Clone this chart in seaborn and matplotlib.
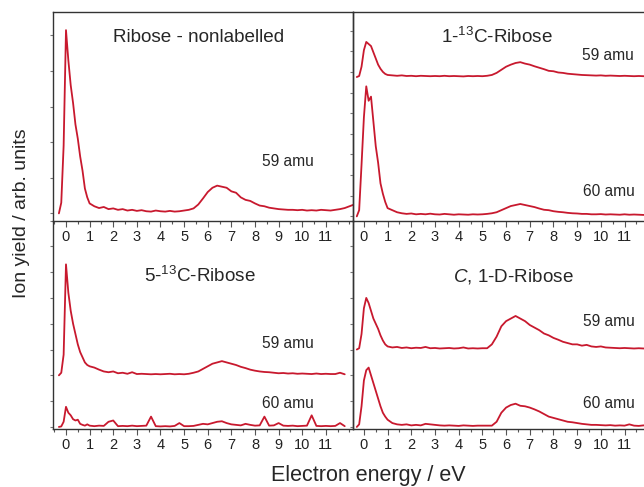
import numpy as np
import pandas as pd
import seaborn as sns
import matplotlib.pyplot as plt
from matplotlib.ticker import MultipleLocator

sns.set_style("ticks")
plt.rcParams['font.family'] = ['Liberation Sans', 'DejaVu Sans']
plt.rcParams['mathtext.fontset'] = 'custom'
plt.rcParams['mathtext.rm'] = 'Liberation Sans'
plt.rcParams['mathtext.it'] = 'Liberation Sans:italic'

nan = np.nan

##### data (arb. units, each panel in its own tick units) #####

energy = [-0.3, -0.2, -0.1, 0.0, 0.1, 0.2, 0.3, 0.4, 0.5, 0.6, 0.7, 0.8, 0.9, 1.0,
          1.2, 1.4, 1.6, 1.8, 2.0, 2.2, 2.4, 2.6, 2.8, 3.0, 3.2, 3.4, 3.6, 3.8, 4.0, 4.2, 4.4, 4.6, 4.8, 5.0,
          5.2, 5.4, 5.6, 5.8, 6.0, 6.2, 6.4, 6.6, 6.8, 7.0, 7.2, 7.4, 7.6, 7.8, 8.0, 8.2, 8.4, 8.6, 8.8, 9.0,
          9.2, 9.4, 9.6, 9.8, 10.0, 10.2, 10.4, 10.6, 10.8, 11.0, 11.2, 11.4, 11.6, 11.8, 12.0, 12.2]

# Ribose - nonlabelled, 59 amu
nonlab_59 = [0.0, 0.3, 1.9, 5.15, 4.3, 3.6, 3.1, 2.5, 2.1, 1.6, 1.2, 0.7, 0.45, 0.28,
             0.2, 0.15, 0.18, 0.12, 0.14, 0.1, 0.12, 0.08, 0.1, 0.07, 0.09, 0.06, 0.05, 0.08, 0.06, 0.05, 0.07, 0.05, 0.06, 0.08,
             0.1, 0.14, 0.25, 0.42, 0.6, 0.72, 0.78, 0.75, 0.72, 0.62, 0.58, 0.45, 0.38, 0.35, 0.28, 0.22, 0.2, 0.16, 0.14, 0.12,
             0.11, 0.1, 0.1, 0.09, 0.1, 0.08, 0.09, 0.08, 0.1, 0.09, 0.08, 0.1, 0.12, 0.15, 0.2, 0.25]

# 1-13C-Ribose
c1_59 = [0.0, 0.05, 0.5, 1.3, 1.7, 1.6, 1.5, 1.2, 0.9, 0.6, 0.4, 0.25, 0.15, 0.1,
         0.08, 0.06, 0.08, 0.05, 0.06, 0.04, 0.06, 0.05, 0.04, 0.05, 0.04, 0.06, 0.04, 0.05, 0.04, 0.03, 0.05, 0.04, 0.05, 0.04,
         0.06, 0.1, 0.2, 0.35, 0.5, 0.6, 0.68, 0.72, 0.65, 0.6, 0.52, 0.45, 0.38, 0.3, 0.28, 0.22, 0.2, 0.16, 0.14, 0.12,
         0.1, 0.09, 0.08, 0.07, 0.08, 0.06, 0.07, 0.06, 0.05, 0.06, 0.05, 0.04, 0.05, 0.04, 0.04, 0.04]
c1_60 = [0.0, 0.3, 2.5, 4.8, 6.3, 5.6, 5.8, 4.6, 3.4, 2.6, 1.6, 1.1, 0.7, 0.4,
         0.3, 0.2, 0.15, 0.12, 0.14, 0.1, 0.12, 0.1, 0.13, 0.1, 0.09, 0.12, 0.1, 0.08, 0.1, 0.09, 0.08, 0.1, 0.09, 0.1,
         0.12, 0.15, 0.2, 0.3, 0.4, 0.5, 0.55, 0.6, 0.55, 0.5, 0.45, 0.38, 0.32, 0.3, 0.25, 0.22, 0.2, 0.17, 0.15, 0.14,
         0.12, 0.12, 0.1, 0.1, 0.11, 0.09, 0.1, 0.09, 0.08, 0.1, 0.08, 0.09, 0.08, 0.07, 0.08, 0.08]

# 5-13C-Ribose
c5_59 = [0.0, 0.1, 0.8, 4.3, 3.2, 2.5, 2.0, 1.6, 1.2, 0.9, 0.7, 0.5, 0.4, 0.35,
         0.3, 0.22, 0.15, 0.12, 0.15, 0.08, 0.1, 0.06, 0.12, 0.05, 0.06, 0.05, 0.04, 0.05, 0.04, 0.05, 0.06, 0.04, 0.05, 0.04,
         0.06, 0.1, 0.15, 0.25, 0.35, 0.45, 0.5, 0.55, 0.5, 0.45, 0.4, 0.33, 0.28, 0.22, 0.18, 0.15, 0.13, 0.12, 0.1, 0.08,
         0.09, 0.07, 0.08, 0.06, 0.07, 0.06, 0.05, 0.07, 0.05, 0.06, 0.05, 0.05, 0.1, 0.04, nan, nan]
c5_60 = [0.0, 0.02, 0.2, 0.78, 0.55, 0.45, 0.3, 0.25, 0.28, 0.12, 0.08, 0.05, 0.1, 0.05,
         0.03, 0.05, 0.04, 0.2, 0.25, 0.03, 0.04, 0.03, 0.05, 0.03, 0.04, 0.05, 0.4, 0.03, 0.02, 0.03, 0.02, 0.04, 0.15, 0.03,
         0.03, 0.04, 0.08, 0.12, 0.1, 0.15, 0.2, 0.22, 0.15, 0.1, 0.08, 0.06, 0.12, 0.08, 0.05, 0.06, 0.4, 0.05, 0.06, 0.15,
         0.05, 0.04, 0.05, 0.03, 0.04, 0.05, 0.45, 0.04, 0.03, 0.04, 0.03, 0.04, 0.15, 0.03, nan, nan]

# C,1-D-Ribose
cd_59 = [0.0, 0.05, 0.6, 1.6, 2.0, 1.8, 1.5, 1.2, 1.0, 0.8, 0.55, 0.35, 0.2, 0.12,
         0.08, 0.1, 0.06, 0.08, 0.05, 0.07, 0.06, 0.1, 0.05, 0.06, 0.04, 0.05, 0.06, 0.04, 0.05, 0.08, 0.04, 0.05, 0.04, 0.05,
         0.05, 0.2, 0.5, 0.9, 1.1, 1.2, 1.3, 1.2, 1.1, 0.95, 0.85, 0.75, 0.62, 0.55, 0.45, 0.38, 0.3, 0.25, 0.2, 0.2,
         0.15, 0.18, 0.12, 0.1, 0.12, 0.08, 0.07, 0.06, 0.05, 0.06, 0.05, 0.04, 0.05, 0.04, 0.04, 0.04]
cd_60 = [0.0, 0.1, 0.8, 1.8, 2.2, 2.3, 2.0, 1.7, 1.4, 1.1, 0.8, 0.55, 0.4, 0.28,
         0.15, 0.1, 0.08, 0.1, 0.06, 0.08, 0.06, 0.12, 0.1, 0.08, 0.06, 0.05, 0.06, 0.05, 0.04, 0.06, 0.05, 0.04, 0.05, 0.05,
         0.05, 0.05, 0.2, 0.55, 0.75, 0.85, 0.9, 0.82, 0.8, 0.75, 0.68, 0.6, 0.5, 0.4, 0.35, 0.3, 0.25, 0.2, 0.18, 0.15,
         0.12, 0.1, 0.08, 0.08, 0.07, 0.06, 0.07, 0.05, 0.06, 0.05, 0.1, 0.05, 0.04, 0.06, 0.05, 0.05]

titles = ['Ribose - nonlabelled', '1-$^{13}$C-Ribose', '5-$^{13}$C-Ribose', r'$\it{C}$, 1-D-Ribose']
x_ticks = list(range(0, 12))

line_col = '#c8192e'
W, H = 644, 487

fig, axes = plt.subplots(2, 2, figsize=(W / 100, H / 100), dpi=100)
fig.subplots_adjust(left=53 / W, right=653 / W, top=1 - 12 / H, bottom=1 - 429 / H,
                    wspace=0, hspace=0)
(ax_tl, ax_tr), (ax_bl, ax_br) = axes

# (axis, series, vertical offset, mass label, label pixel pos)
traces = [
    (ax_tl, nonlab_59, 0.0, '59 amu', (288, 161)),
    (ax_tr, c1_59, 6.75, '59 amu', (608, 55)),
    (ax_tr, c1_60, 0.0, '60 amu', (609, 191)),
    (ax_bl, c5_59, 2.0, '59 amu', (288, 344)),
    (ax_bl, c5_60, 0.0, '60 amu', (288, 404)),
    (ax_br, cd_59, 3.0, '59 amu', (609, 322)),
    (ax_br, cd_60, 0.0, '60 amu', (609, 403)),
]

for ax, vals, off, lab, (px, py) in traces:
    df = pd.DataFrame({'energy': energy, 'yield': np.array(vals) + off})
    sns.lineplot(data=df, x='energy', y='yield', ax=ax, color=line_col, lw=1.3)
    fig.text(px / W, 1 - py / H, lab, ha='center', va='center', fontsize=11.2)

title_pos = [(199, 37), (497, 37), (200, 276), (513, 277)]
for t, (px, py) in zip(titles, title_pos):
    fig.text(px / W, 1 - py / H, t, ha='center', va='center', fontsize=13.6)

ax_tl.set_xlim(-0.55, 12.15)
ax_bl.set_xlim(-0.55, 12.15)
ax_tr.set_xlim(-0.46, 12.2)
ax_br.set_xlim(-0.46, 12.2)
ax_tl.set_ylim(-0.2, 5.66)
ax_tr.set_ylim(-0.2, 9.9)
ax_bl.set_ylim(-0.08, 8.0)
ax_br.set_ylim(-0.08, 8.0)

for ax in axes.flat:
    ax.set_xlabel('')
    ax.set_ylabel('')
    ax.patch.set_alpha(0)   # so the top row's tick labels are not hidden
    ax.set_xticks(x_ticks)
    ax.xaxis.set_minor_locator(MultipleLocator(0.5))
    ax.yaxis.set_major_locator(MultipleLocator(1))
    ax.set_yticklabels([])
    ax.tick_params(axis='x', which='major', direction='out', length=4, width=0.8,
                   color='#555555', labelsize=10.5, pad=2.5, labelcolor='#222222')
    ax.tick_params(axis='x', which='minor', direction='out', length=2.5, width=0.8, color='#555555')
    ax.tick_params(axis='y', which='major', direction='out', length=2.5, width=0.8, color='#777777')
    for s in ax.spines.values():
        s.set_color('#333333')
        s.set_linewidth(1.0)

for ax in (ax_bl, ax_br):
    ax.spines['top'].set_visible(False)
for ax in (ax_tr, ax_br):
    ax.spines['right'].set_visible(False)
for ax in (ax_tl, ax_tr):
    ax.set_zorder(2)

fig.text(22 / W, 1 - 213 / H, 'Ion yield / arb. units', rotation=90,
         ha='center', va='center', fontsize=14)
fig.text(368 / W, 1 - 476 / H, 'Electron energy / eV', ha='center', va='center', fontsize=15.5)

plt.savefig('out.png', dpi=100)
